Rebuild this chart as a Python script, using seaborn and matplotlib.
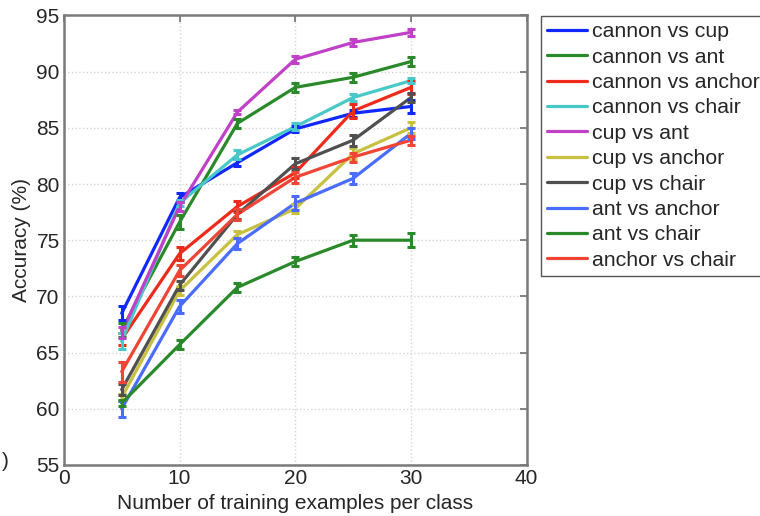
import numpy as np
import pandas as pd
import matplotlib
matplotlib.use("Agg")
import matplotlib.pyplot as plt
import seaborn as sns

# training examples per class
n_examples = [5, 10, 15, 20, 25, 30]

labels = ['cannon vs cup', 'cannon vs ant', 'cannon vs anchor', 'cannon vs chair',
          'cup vs ant', 'cup vs anchor', 'cup vs chair', 'ant vs anchor',
          'ant vs chair', 'anchor vs chair']

# mean accuracy (%)
cannon_vs_cup = [68.5, 78.8, 81.9, 84.9, 86.3, 86.9]
cannon_vs_ant = [67.0, 76.6, 85.4, 88.6, 89.5, 90.9]
cannon_vs_anchor = [66.2, 73.8, 78.0, 81.0, 86.5, 88.6]
cannon_vs_chair = [66.0, 78.3, 82.6, 85.1, 87.7, 89.2]
cup_vs_ant = [66.8, 78.0, 86.4, 91.1, 92.6, 93.5]
cup_vs_anchor = [61.0, 70.5, 75.5, 77.8, 82.7, 85.0]
cup_vs_chair = [61.7, 71.0, 77.3, 81.8, 83.9, 87.7]
ant_vs_anchor = [60.0, 69.1, 74.7, 78.3, 80.5, 84.5]
ant_vs_chair = [60.5, 65.7, 70.8, 73.1, 75.0, 75.0]
anchor_vs_chair = [63.3, 72.3, 77.3, 80.6, 82.4, 83.9]

# error bar half-lengths
err_cannon_vs_cup = [0.6, 0.4, 0.3, 0.3, 0.3, 0.6]
err_cannon_vs_ant = [0.6, 0.6, 0.4, 0.4, 0.4, 0.4]
err_cannon_vs_anchor = [0.5, 0.6, 0.5, 0.5, 0.6, 0.6]
err_cannon_vs_chair = [0.7, 0.3, 0.4, 0.3, 0.3, 0.2]
err_cup_vs_ant = [0.5, 0.4, 0.2, 0.3, 0.3, 0.3]
err_cup_vs_anchor = [0.3, 0.4, 0.3, 0.4, 0.5, 0.5]
err_cup_vs_chair = [0.5, 0.4, 0.4, 0.5, 0.5, 0.4]
err_ant_vs_anchor = [0.7, 0.6, 0.5, 0.6, 0.5, 0.5]
err_ant_vs_chair = [0.3, 0.4, 0.4, 0.4, 0.5, 0.6]
err_anchor_vs_chair = [0.9, 0.5, 0.5, 0.5, 0.4, 0.4]

means = [cannon_vs_cup, cannon_vs_ant, cannon_vs_anchor, cannon_vs_chair, cup_vs_ant,
         cup_vs_anchor, cup_vs_chair, ant_vs_anchor, ant_vs_chair, anchor_vs_chair]
errors = [err_cannon_vs_cup, err_cannon_vs_ant, err_cannon_vs_anchor, err_cannon_vs_chair,
          err_cup_vs_ant, err_cup_vs_anchor, err_cup_vs_chair, err_ant_vs_anchor,
          err_ant_vs_chair, err_anchor_vs_chair]

colors = ['#1028ff', '#2a8a2a', '#ee2a1a', '#48c8c8', '#c040c8',
          '#c8c040', '#505050', '#4a6cff', '#2a8a2a', '#f04535']

rows = []
for lab, vals, errs in zip(labels, means, errors):
    for x, v, e in zip(n_examples, vals, errs):
        rows.append({'n': x, 'acc': v, 'err': e, 'pair': lab})
df = pd.DataFrame(rows)

sns.set_theme(style='white')
plt.rcParams['font.family'] = ['Liberation Sans', 'DejaVu Sans']

fig = plt.figure(figsize=(7.6, 5.16), dpi=100)
ax = fig.add_axes([0.084, 0.099, 0.609, 0.871])

sns.lineplot(data=df, x='n', y='acc', hue='pair', hue_order=labels,
             palette=colors, errorbar=None, linewidth=2.3, ax=ax, legend=True)

for lab, col in zip(labels, colors):
    sub = df[df['pair'] == lab]
    ax.errorbar(sub['n'], sub['acc'], yerr=sub['err'], fmt='none', ecolor=col,
                elinewidth=2.2, capsize=3, capthick=2.2, zorder=3)

ax.set_xlim(0, 40)
ax.set_ylim(55, 95)
ax.set_xticks([0, 10, 20, 30, 40])
ax.set_yticks(np.arange(55, 96, 5))
ax.grid(True, color='#d4d4d4', linestyle=':', linewidth=1.0)
ax.tick_params(direction='in', length=5, width=1.2, color='#707070',
               top=True, right=True, labelsize=15, pad=3)
for s in ax.spines.values():
    s.set_color('#7a7a7a')
    s.set_linewidth(1.8)

ax.set_xlabel('Number of training examples per class', fontsize=15, labelpad=4)
ax.set_ylabel('Accuracy (%)', fontsize=15, labelpad=4)

handles, _ = ax.get_legend_handles_labels()
ax.legend(handles, labels, loc='upper left', bbox_to_anchor=(0.712, 0.969),
          bbox_transform=fig.transFigure, fontsize=15.3, frameon=True,
          fancybox=False, edgecolor='#555555', framealpha=1,
          handlelength=1.85, handletextpad=0.25, labelspacing=0.3,
          borderpad=0.3, borderaxespad=0)

fig.text(0.003, 0.105, ')', fontsize=15, ha='left', va='center')

fig.savefig('out.png', dpi=100)
